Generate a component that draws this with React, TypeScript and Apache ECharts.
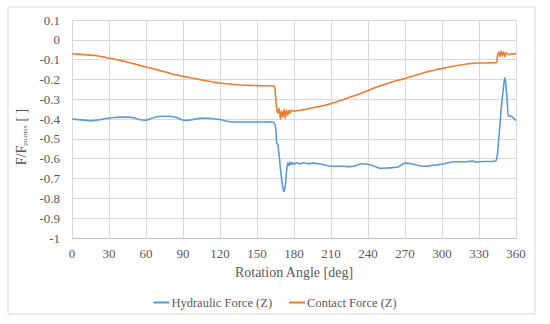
import React, { useEffect, useRef } from "react";
import * as echarts from "echarts";

const hydAngles = [0,5,10,15,20,25,30,35,40,45,50,55,60,65,70,75,80,85,90,95,100,105,110,115,120,125,130,140,150,160,163,165,166,167,169,171,172,173,174,175,176,177,178,179,180,182,185,188,192,196,200,205,210,215,220,225,230,235,240,245,250,255,260,265,270,275,280,285,290,295,300,305,310,315,320,325,328,330,335,340,344,346,348,350,351,352,353,354,356,358,360];
const hydValues = [-0.400,-0.403,-0.405,-0.408,-0.405,-0.400,-0.395,-0.392,-0.390,-0.390,-0.393,-0.403,-0.405,-0.395,-0.387,-0.386,-0.387,-0.392,-0.405,-0.406,-0.400,-0.395,-0.396,-0.398,-0.402,-0.410,-0.415,-0.415,-0.415,-0.414,-0.415,-0.44,-0.52,-0.53,-0.65,-0.75,-0.765,-0.73,-0.66,-0.62,-0.635,-0.615,-0.63,-0.62,-0.628,-0.62,-0.625,-0.62,-0.625,-0.622,-0.625,-0.632,-0.638,-0.638,-0.638,-0.64,-0.635,-0.625,-0.628,-0.638,-0.648,-0.647,-0.645,-0.64,-0.622,-0.625,-0.633,-0.638,-0.636,-0.632,-0.628,-0.62,-0.615,-0.615,-0.615,-0.612,-0.618,-0.615,-0.614,-0.614,-0.608,-0.50,-0.35,-0.23,-0.19,-0.24,-0.32,-0.385,-0.385,-0.395,-0.407];

const conAngles = [0,5,10,15,20,25,30,35,40,45,50,55,60,65,70,75,80,85,90,95,100,105,110,115,120,125,130,135,140,145,150,155,160,164,165,166,167,168,169,170,171,172,173,174,175,176,177,178,180,185,190,195,200,205,210,215,220,225,230,235,240,245,250,255,260,265,270,275,280,285,290,295,300,305,310,315,320,325,330,335,340,344,345,346,347,348,349,350,351,352,354,356,358,360];
const conValues = [-0.07,-0.072,-0.075,-0.077,-0.08,-0.086,-0.092,-0.098,-0.105,-0.113,-0.121,-0.129,-0.137,-0.145,-0.153,-0.161,-0.170,-0.178,-0.184,-0.190,-0.196,-0.202,-0.208,-0.213,-0.218,-0.222,-0.225,-0.227,-0.229,-0.230,-0.231,-0.232,-0.232,-0.233,-0.28,-0.35,-0.37,-0.345,-0.40,-0.36,-0.39,-0.35,-0.395,-0.355,-0.38,-0.355,-0.37,-0.355,-0.36,-0.355,-0.35,-0.343,-0.337,-0.33,-0.322,-0.312,-0.302,-0.29,-0.28,-0.268,-0.256,-0.243,-0.232,-0.222,-0.212,-0.203,-0.195,-0.185,-0.176,-0.167,-0.158,-0.151,-0.145,-0.138,-0.132,-0.127,-0.122,-0.119,-0.117,-0.117,-0.116,-0.116,-0.08,-0.06,-0.085,-0.055,-0.08,-0.06,-0.085,-0.065,-0.075,-0.07,-0.072,-0.068];

const seriesNames = ["Hydraulic Force (Z)", "Contact Force (Z)"];
const xTitle = "Rotation Angle [deg]";

const FONT = "Liberation Serif";
const TXT = "#595959";

export default function App() {
  const ref = useRef<HTMLDivElement>(null);
  useEffect(() => {
    if (!ref.current) return;
    const chart = echarts.init(ref.current, null, { renderer: "svg" });
    const hyd = hydAngles.map((a, i) => [a, hydValues[i]]);
    const con = conAngles.map((a, i) => [a, conValues[i]]);
    chart.setOption({
      animation: false,
      backgroundColor: "#ffffff",
      textStyle: { fontFamily: FONT },
      grid: { left: 72, right: 34, top: 20, bottom: 86 },
      graphic: [
        {
          type: "rect",
          shape: { x: 8, y: 7, width: 527, height: 307 },
          style: { fill: "none", stroke: "#d9d9d9", lineWidth: 1 },
          silent: true,
        },
      ],
      legend: {
        top: 291,
        left: "center",
        itemWidth: 16,
        itemHeight: 2,
        itemGap: 17,
        icon: "rect",
        textStyle: { fontFamily: FONT, fontSize: 12.5, color: TXT, padding: [0, 0, 0, -3] },
        data: seriesNames,
      },
      xAxis: {
        type: "value",
        min: 0,
        max: 360,
        interval: 30,
        name: xTitle,
        nameLocation: "middle",
        nameGap: 27,
        nameTextStyle: { fontFamily: FONT, fontSize: 14, color: TXT },
        axisLine: { show: true, onZero: false, lineStyle: { color: "#bfbfbf" } },
        axisTick: { show: false },
        axisLabel: { fontFamily: FONT, fontSize: 13, color: TXT, margin: 9 },
        splitLine: { show: true, lineStyle: { color: "#d9d9d9" } },
      },
      yAxis: {
        type: "value",
        min: -1,
        max: 0.1,
        interval: 0.1,
        name: "F/F{sub|pu,max} [ ]",
        nameLocation: "middle",
        nameGap: 37,
        nameRotate: 90,
        nameTextStyle: {
          fontFamily: FONT,
          fontSize: 14,
          color: TXT,
          padding: [0, 16, 0, 0],
          rich: {
            sub: { fontFamily: FONT, fontSize: 7, color: TXT, verticalAlign: "bottom", padding: [6, 0, 0, 0] },
          },
        },
        axisLine: { show: false },
        axisTick: { show: false },
        axisLabel: {
          fontFamily: FONT,
          fontSize: 13,
          color: TXT,
          margin: 12,
          formatter: (v: number) => {
            const r = Math.round(v * 10) / 10;
            return r === 0 ? "0" : String(r);
          },
        },
        splitLine: { show: true, lineStyle: { color: "#d9d9d9" } },
      },
      series: [
        {
          name: seriesNames[0],
          type: "line",
          data: hyd,
          symbol: "none",
          smooth: 0.3,
          lineStyle: { color: "#5B9BD5", width: 1.6 },
          itemStyle: { color: "#5B9BD5" },
        },
        {
          name: seriesNames[1],
          type: "line",
          data: con,
          symbol: "none",
          smooth: 0.3,
          lineStyle: { color: "#ED7D31", width: 1.6 },
          itemStyle: { color: "#ED7D31" },
        },
      ],
    });
    return () => chart.dispose();
  }, []);
  return <div ref={ref} style={{ width: 550, height: 324, position: "absolute", left: 0, top: 0 }} />;
}
